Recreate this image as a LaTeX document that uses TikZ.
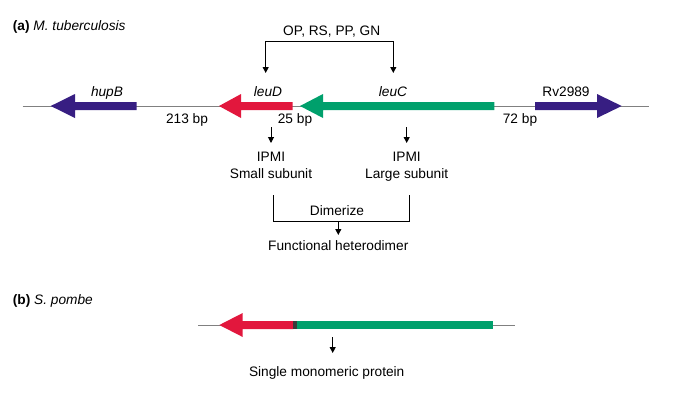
\documentclass[tikz,border=0pt]{standalone}
\usepackage{fontspec}
\setmainfont{Liberation Sans}
\usepackage{tikz}
\usetikzlibrary{positioning,arrows.meta}

\definecolor{genepurple}{RGB}{55,30,130}
\definecolor{genered}{RGB}{226,23,61}
\definecolor{genegreen}{RGB}{0,160,108}
\definecolor{fusegray}{RGB}{60,60,60}

\tikzset{
  txt/.style={inner sep=0pt, font=\fontsize{13.7}{17}\selectfont},
  genename/.style={txt, font=\fontsize{13.7}{17}\selectfont\itshape},
  backbone/.style={draw=gray, line width=0.8pt},
  pointer/.style={line width=1pt, -{Triangle[length=6pt,width=6pt]}},
  twoway/.style={line width=1pt, {Triangle[length=6pt,width=6pt]}-{Triangle[length=6pt,width=6pt]}},
  bracket/.style={line width=1pt}
}

% gene arrow: tail x, head base x, tip x, colour (drawn round y=0)
\newcommand{\genearrow}[4]{%
  \fill[#4] (#1,-4) -- (#2,-4) -- (#2,-12) -- (#3,0) -- (#2,12) -- (#2,4) -- (#1,4) -- cycle;}

\begin{document}
\begin{tikzpicture}[x=1pt,y=-1pt,node distance=6pt]
  \useasboundingbox (0,0) rectangle (685,402);
  % Panel (a): the M. tuberculosis locus
  \node[txt, anchor=base west] (titleA) at (12.7,30)
    {{\bfseries (a)} \textit{M. tuberculosis}};
  \begin{scope}[shift={(0,106)}]
    \draw[backbone] (22.7,0) -- (649.3,0);
    \genearrow{136.7}{75}{50.7}{genepurple}
    \genearrow{292.7}{241}{219}{genered}
    \genearrow{494.3}{323}{300}{genegreen}
    \genearrow{535}{597}{621.7}{genepurple}
  \end{scope}
  % gene names above, spacer lengths below
  \node[genename, anchor=base] (hupB) at (107,96) {hupB};
  \node[genename, anchor=base] (leuD) at (268,96) {leuD};
  \node[genename, anchor=base] (leuC) at (393,96) {leuC};
  \node[txt, anchor=base] (rv) at (566,96) {Rv2989};
  \node[txt, anchor=base] (gap1) at (187,123.5) {213 bp};
  \node[txt, anchor=base] (gap2) at (295,123.5) {25 bp};
  \node[txt, anchor=base] (gap3) at (520,123.5) {72 bp};
  % the shared regulators acting on both genes
  \node[txt, anchor=base] (regs) at (331.7,35) {OP, RS, PP, GN};
  \coordinate (barL) at (265.7,41);
  \coordinate (barR) at (393.3,41);
  \coordinate (inL) at (265.7,73);
  \coordinate (inR) at (393.3,73);
  \draw[twoway] (inL) -- (barL) -- (barR) -- (inR);
  % products of the two genes
  \coordinate (outD) at (271,127);
  \coordinate (tipD) at (271,143);
  \coordinate (outC) at (406.7,127);
  \coordinate (tipC) at (406.7,143);
  \draw[pointer] (outD) -- (tipD);
  \draw[pointer] (outC) -- (tipC);
  \node[txt, align=center, below=9pt of tipD] (small) {IPMI\\Small subunit};
  \node[txt, align=center, below=9pt of tipC] (large) {IPMI\\Large subunit};
  % the two subunits join
  \coordinate (dimL) at (273.3,195);
  \coordinate (dimLb) at (273.3,221);
  \coordinate (dimRb) at (409,221);
  \coordinate (dimR) at (409,195);
  \draw[bracket] (dimL) -- (dimLb) -- (dimRb) -- (dimR);
  \node[txt, anchor=base] (dimer) at (337,215) {Dimerize};
  \coordinate (outH) at (338.3,221);
  \coordinate (tipH) at (338.3,235);
  \draw[pointer] (outH) -- (tipH);
  \node[txt, below=5.5pt of tipH] (hetero) {Functional heterodimer};
  % Panel (b): the fused S. pombe gene
  \node[txt, anchor=base west] (titleB) at (12.7,304)
    {{\bfseries (b)} \textit{S. pombe}};
  \begin{scope}[shift={(0,325)}]
    \draw[backbone] (198.3,0) -- (515,0);
    \genearrow{293.3}{242.7}{219.3}{genered}
    \fill[fusegray] (293.3,-4) rectangle (296.7,4);
    \fill[genegreen] (296.7,-4) rectangle (493.3,4);
  \end{scope}
  \coordinate (outF) at (332.7,337);
  \coordinate (tipF) at (332.7,353);
  \draw[pointer] (outF) -- (tipF);
  \node[txt, below=13pt of tipF, xshift=-6pt] (mono) {Single monomeric protein};
\end{tikzpicture}
\end{document}
